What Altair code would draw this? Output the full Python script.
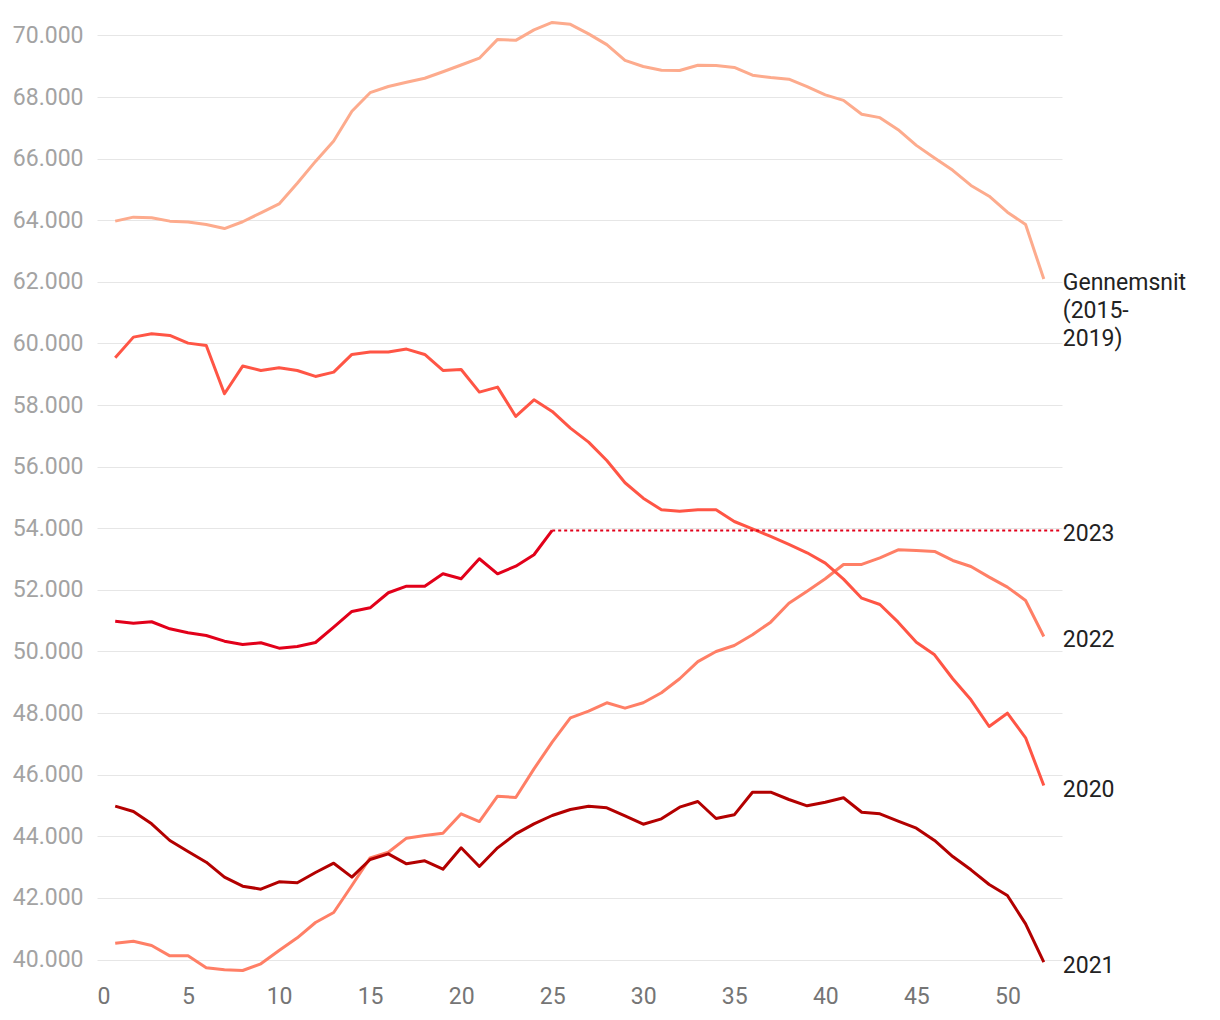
import altair as alt
import pandas as pd

weeks = list(range(1, 53))

gennemsnit = [63970, 64100, 64080, 63970, 63940, 63860, 63730, 63950, 64240, 64530,
              65200, 65910, 66570, 67540, 68140, 68340, 68480, 68610, 68820, 69040,
              69260, 69870, 69840, 70180, 70420, 70360, 70050, 69700, 69190, 68990,
              68870, 68860, 69030, 69020, 68960, 68710, 68630, 68580, 68340, 68070,
              67890, 67440, 67330, 66940, 66430, 66020, 65620, 65130, 64780, 64260,
              63860, 62090]
y2020 = [59534, 60205, 60315, 60260, 60010, 59935, 58367, 59265, 59123, 59210,
         59123, 58929, 59070, 59643, 59720, 59720, 59817, 59643, 59123, 59156,
         58420, 58583, 57630, 58170, 57792, 57250, 56797, 56200, 55477, 54977,
         54600, 54556, 54600, 54600, 54220, 53983, 53734, 53474, 53203, 52868,
         52348, 51730, 51526, 50952, 50303, 49892, 49114, 48432, 47565, 47997,
         47198, 45649]
y2021 = [44978, 44805, 44405, 43864, 43506, 43160, 42673, 42381, 42283, 42522,
         42490, 42825, 43127, 42673, 43247, 43431, 43107, 43204, 42932, 43626,
         43019, 43626, 44080, 44405, 44675, 44870, 44978, 44924, 44665, 44392,
         44567, 44946, 45130, 44578, 44697, 45432, 45432, 45195, 44990, 45108,
         45250, 44782, 44730, 44490, 44264, 43864, 43344, 42912, 42435, 42078,
         41159, 39912]
y2022 = [40529, 40594, 40455, 40120, 40120, 39730, 39665, 39643, 39860, 40292,
         40704, 41201, 41526, 42403, 43300, 43484, 43939, 44026, 44101, 44730,
         44480, 45302, 45260, 46190, 47056, 47847, 48063, 48335, 48160, 48335,
         48660, 49114, 49670, 50000, 50195, 50542, 50952, 51568, 51958, 52360,
         52825, 52825, 53041, 53300, 53279, 53247, 52955, 52760, 52414, 52089,
         51656, 50487]
y2023 = [50985, 50920, 50965, 50737, 50607, 50519, 50335, 50227, 50282, 50107,
         50162, 50292, 50790, 51300, 51418, 51906, 52121, 52121, 52522, 52360,
         53010, 52522, 52770, 53140, 53930]

series_names = ["Gennemsnit", "2022", "2020", "2021", "2023"]
series_colors = ["#fdab8d", "#ff7f66", "#ff5545", "#b30000", "#e2001a"]
label_texts = ["Gennemsnit\n(2015-\n2019)", "2022", "2020", "2021", "2023"]

rows = []
for name, vals in zip(series_names, [gennemsnit, y2022, y2020, y2021, y2023]):
    for i, v in enumerate(vals):
        rows.append({"serie": name, "uge": weeks[i], "antal": v})
df = pd.DataFrame(rows)

dotted = pd.DataFrame({"serie": ["2023", "2023"], "uge": [len(y2023), 53],
                       "antal": [y2023[-1], y2023[-1]]})

last_vals = [gennemsnit[-1], y2022[-1], y2020[-1], y2021[-1], y2023[-1]]
labels = pd.DataFrame({"serie": series_names, "tekst": label_texts,
                       "uge": [52] * 5, "antal": last_vals})

color = alt.Color("serie:N", scale=alt.Scale(domain=series_names, range=series_colors), legend=None)

x = alt.X("uge:Q", scale=alt.Scale(domain=[0, 53], nice=False),
          axis=alt.Axis(values=list(range(0, 51, 5)), grid=False, domain=False, ticks=False,
                        labelPadding=7, labelFontSize=23, labelColor="#757575", title=None))
y = alt.Y("antal:Q", scale=alt.Scale(domain=[39400, 70500], nice=False, zero=False),
          axis=alt.Axis(values=list(range(40000, 70001, 2000)), grid=True, gridColor="#e6e6e6",
                        domain=False, ticks=False, labelPadding=14, labelFontSize=23,
                        labelColor="#a3a3a3", title=None,
                        labelExpr="replace(format(datum.value, ','), ',', '.')"))

lines = alt.Chart(df).mark_line(strokeWidth=3, strokeJoin="round").encode(
    x=x, y=y, color=color, detail="serie:N", order="uge:Q"
)

dots = alt.Chart(dotted).mark_line(strokeWidth=2, strokeDash=[3, 3]).encode(
    x="uge:Q", y="antal:Q", color=color
)

text = alt.Chart(labels).mark_text(align="left", baseline="alphabetic", dx=19, dy=11,
                                   fontSize=23, lineBreak="\n", lineHeight=28,
                                   color="#222222").encode(
    x="uge:Q", y="antal:Q", text="tekst:N"
)

chart = alt.layer(lines, dots, text).properties(
    width=965, height=958,
    padding={"left": 4, "top": 12, "right": 5, "bottom": 5}
).configure(font="Roboto").configure_view(stroke=None)

chart.save("out.html", embed_options={"renderer": "svg", "actions": False})
